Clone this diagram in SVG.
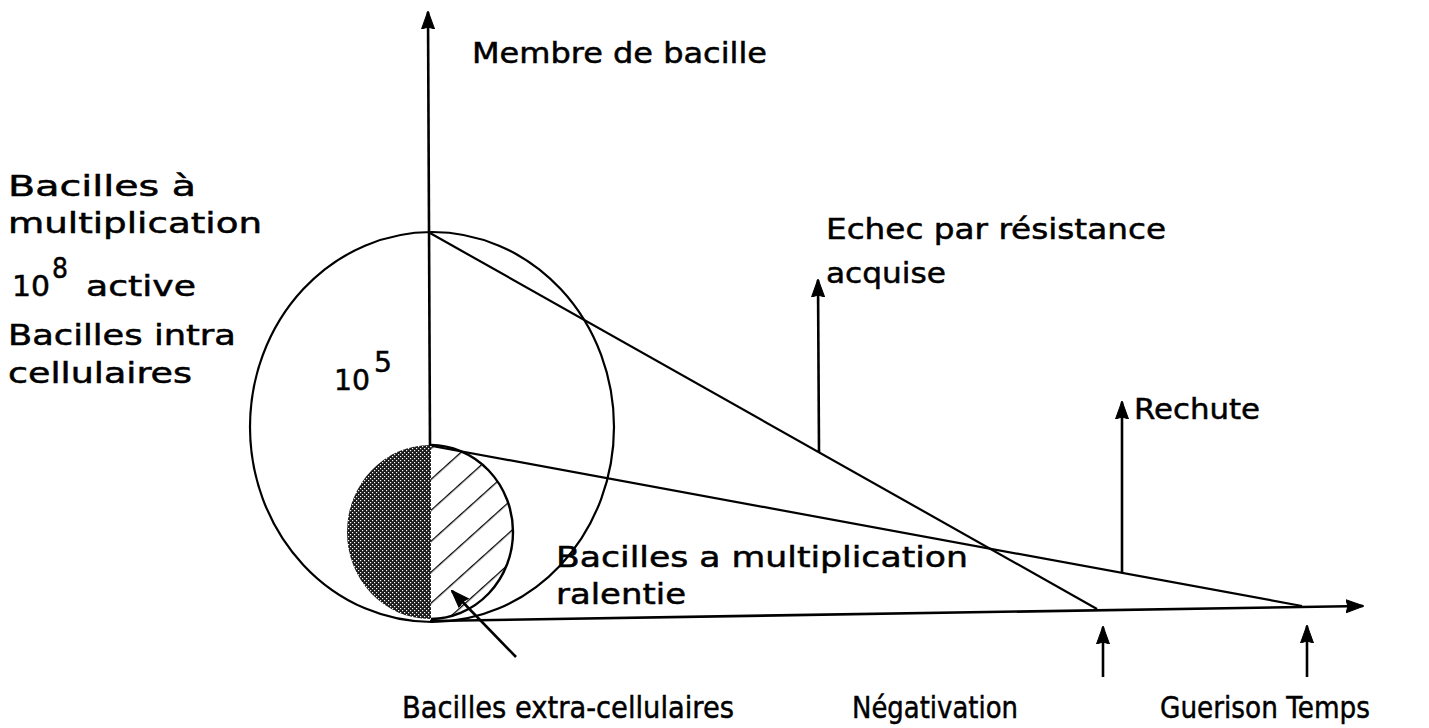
<svg xmlns="http://www.w3.org/2000/svg" width="1429" height="728" viewBox="0 0 1429 728">
<style>
  .t { font-family: "DejaVu Sans", "Liberation Sans", sans-serif; font-size: 28px; fill: #000; stroke: #000; stroke-width: 0.5; }
  .b { font-size: 31px; }
  .ln { stroke: #000; stroke-width: 2.2; fill: none; }
  .ar { stroke: #000; stroke-width: 2.6; fill: none; marker-end: url(#ah); }
</style>
<defs>
  <marker id="ah" viewBox="0 0 18 14" refX="17" refY="7" markerWidth="18" markerHeight="14" orient="auto" markerUnits="userSpaceOnUse">
    <path d="M0,0.5 L18,7 L0,13.5 L2,7 z" fill="#000" stroke="#000" stroke-width="1" stroke-linejoin="round"/>
  </marker>
  <pattern id="stip" width="4" height="4" patternUnits="userSpaceOnUse">
    <rect width="4" height="4" fill="#1a1a1a"/>
    <rect x="0" y="0" width="1.2" height="1.2" fill="#fff"/>
    <rect x="2" y="2" width="1.2" height="1.2" fill="#fff"/>
  </pattern>
  <pattern id="hatch" width="23" height="23" patternUnits="userSpaceOnUse" patternTransform="rotate(-42)">
    <rect width="23" height="23" fill="#fff"/>
    <line x1="0" y1="0" x2="23" y2="0" stroke="#000" stroke-width="2.6"/>
  </pattern>
  <clipPath id="leftHalf"><rect x="300" y="430" width="131" height="200"/></clipPath>
  <clipPath id="rightHalf"><rect x="431" y="430" width="120" height="200"/></clipPath>
</defs>
<rect width="1429" height="728" fill="#fff"/>

<g id="big-circle">
  <ellipse cx="432" cy="427" rx="182" ry="195" class="ln"/>
</g>

<g id="small-circle">
  <ellipse cx="430" cy="532" rx="83" ry="87" fill="url(#stip)" clip-path="url(#leftHalf)"/>
  <ellipse cx="430" cy="532" rx="83" ry="87" fill="url(#hatch)" stroke="#000" stroke-width="2.4" clip-path="url(#rightHalf)"/>
</g>

<g id="connectors">
  <line x1="430" y1="446" x2="428" y2="12" class="ar"/>
  <line x1="430" y1="621" x2="1363" y2="606" class="ar"/>
  <line x1="430" y1="233" x2="1097" y2="609" class="ln"/>
  <line x1="432" y1="446" x2="1302" y2="606" class="ln"/>
  <line x1="819" y1="452" x2="818" y2="280" class="ar"/>
  <line x1="1122" y1="572" x2="1122" y2="402" class="ar"/>
  <line x1="1103" y1="677" x2="1103" y2="627" class="ar"/>
  <line x1="1307" y1="677" x2="1307" y2="626" class="ar"/>
  <line x1="516" y1="657" x2="452" y2="591" class="ar"/>
</g>

<g id="label-membre"><text class="t" x="472" y="63" textLength="295" lengthAdjust="spacingAndGlyphs">Membre de bacille</text></g>
<g id="label-multiplication-active">
  <text class="t" x="8" y="196" textLength="188" lengthAdjust="spacingAndGlyphs">Bacilles à</text>
  <text class="t" x="8" y="233" textLength="254" lengthAdjust="spacingAndGlyphs">multiplication</text>
  <text class="t" x="12" y="296" textLength="38" lengthAdjust="spacingAndGlyphs">10</text>
  <text class="t" x="52" y="278" textLength="16" lengthAdjust="spacingAndGlyphs">8</text>
  <text class="t" x="86" y="296" textLength="110" lengthAdjust="spacingAndGlyphs">active</text>
</g>
<g id="label-intra">
  <text class="t" x="8" y="345" textLength="228" lengthAdjust="spacingAndGlyphs">Bacilles intra</text>
  <text class="t" x="8" y="383" textLength="184" lengthAdjust="spacingAndGlyphs">cellulaires</text>
</g>
<g id="label-10-5">
  <text class="t" x="334" y="390" textLength="36" lengthAdjust="spacingAndGlyphs">10</text>
  <text class="t" x="374" y="372" textLength="18" lengthAdjust="spacingAndGlyphs">5</text>
</g>
<g id="label-echec">
  <text class="t" x="826" y="239" textLength="340" lengthAdjust="spacingAndGlyphs">Echec par résistance</text>
  <text class="t" x="826" y="283" textLength="120" lengthAdjust="spacingAndGlyphs">acquise</text>
</g>
<g id="label-rechute"><text class="t" x="1134" y="419" textLength="126" lengthAdjust="spacingAndGlyphs">Rechute</text></g>
<g id="label-ralentie">
  <text class="t" x="556" y="567" textLength="412" lengthAdjust="spacingAndGlyphs">Bacilles a multiplication</text>
  <text class="t" x="556" y="604" textLength="130" lengthAdjust="spacingAndGlyphs">ralentie</text>
</g>
<g id="label-extra"><text class="t b" x="402" y="718" textLength="332" lengthAdjust="spacingAndGlyphs">Bacilles extra-cellulaires</text></g>
<g id="label-negativation"><text class="t b" x="852" y="718" textLength="166" lengthAdjust="spacingAndGlyphs">Négativation</text></g>
<g id="label-guerison"><text class="t b" x="1160" y="718" textLength="210" lengthAdjust="spacingAndGlyphs">Guerison Temps</text></g>
</svg>
